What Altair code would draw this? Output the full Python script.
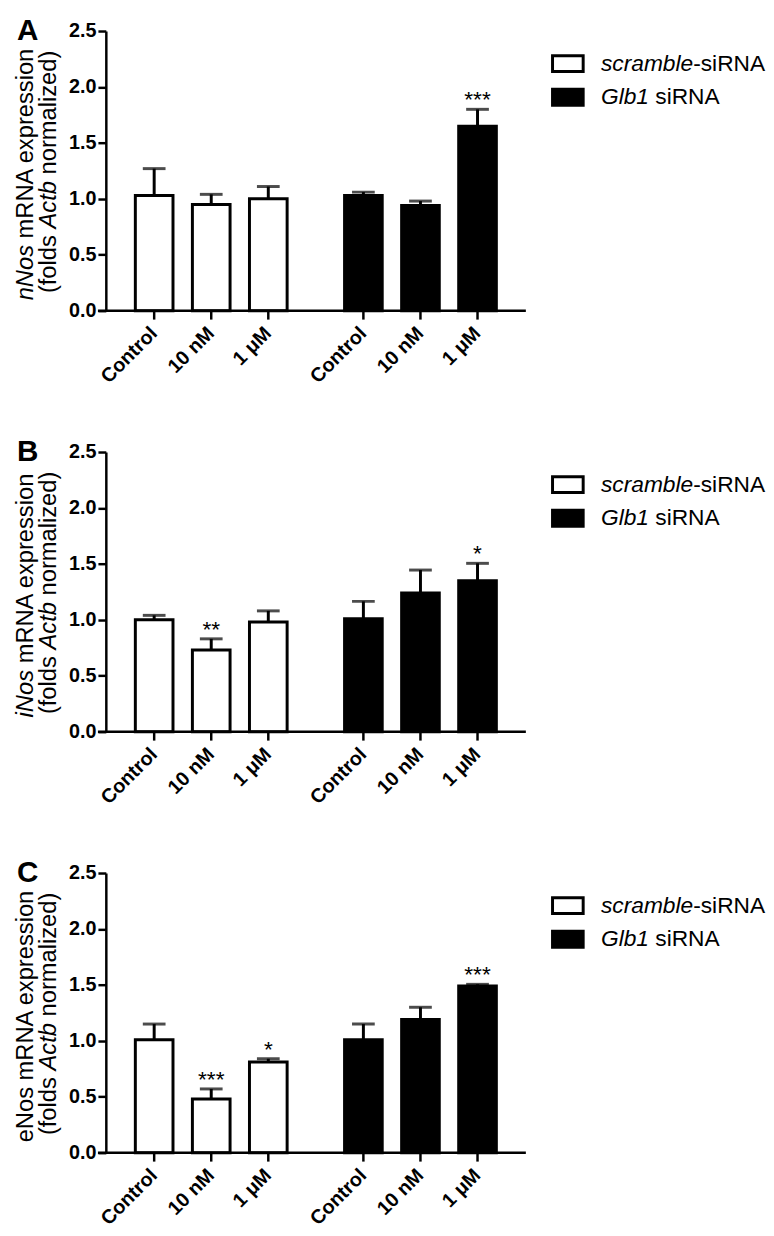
import altair as alt
import pandas as pd

# ---------------- data ----------------
groups = ["scramble-siRNA", "Glb1 siRNA"]
doses = ["Control", "10 nM", "1 μM"]

nnos_mean = [1.03, 0.95, 1.00, 1.03, 0.94, 1.65]
nnos_err = [0.24, 0.09, 0.11, 0.03, 0.04, 0.15]
nnos_sig = ["", "", "", "", "", "***"]

inos_mean = [1.00, 0.73, 0.98, 1.01, 1.24, 1.35]
inos_err = [0.04, 0.10, 0.10, 0.155, 0.205, 0.155]
inos_sig = ["", "**", "", "", "", "*"]

enos_mean = [1.01, 0.48, 0.81, 1.01, 1.19, 1.49]
enos_err = [0.14, 0.09, 0.03, 0.14, 0.11, 0.015]
enos_sig = ["", "***", "*", "", "", "***"]

y_ticks = [0.0, 0.5, 1.0, 1.5, 2.0, 2.5]

# ---------------- styling ----------------
FONT = "Liberation Sans, Arial, Helvetica, sans-serif"
W, H = 425, 283
TITLE_SIZE = 24
LEG_SIZE = 23

REG_W = {' ': 278, '-': 333, '(': 333, ')': 333, 'A': 667, 'G': 778, 'N': 722, 'R': 722,
         '1': 556, 'a': 556, 'b': 556, 'c': 500, 'd': 556, 'e': 556, 'f': 278, 'i': 222,
         'l': 222, 'm': 833, 'n': 556, 'o': 556, 'p': 556, 'r': 333, 's': 500, 't': 278,
         'x': 500, 'z': 500}


def text_width(s, size):
    return sum(REG_W.get(ch, 556) for ch in s) / 1000.0 * size


def frag(text, x, y, size, italic=False, bold=False, angle=0, align="left", baseline="middle"):
    return alt.Chart(pd.DataFrame({"t": [text]})).mark_text(
        font=FONT, fontSize=size, fontStyle="italic" if italic else "normal",
        fontWeight="bold" if bold else "normal", angle=angle, align=align,
        baseline=baseline, color="black"
    ).encode(x=alt.value(x), y=alt.value(y), text="t:N")


def rich_line(parts, size, pos, center, vertical):
    """parts: list of (text, italic). Draws one line of mixed-style text."""
    total = sum(text_width(p, size) for p, _ in parts)
    layers = []
    cum = 0.0
    for p, it in parts:
        lead = text_width(p[: len(p) - len(p.lstrip())], size)
        if vertical:
            y0 = center + total / 2 - cum - lead
            layers.append(frag(p.strip(), pos, y0, size, italic=it, angle=270))
        else:
            x0 = center + cum + lead
            layers.append(frag(p.strip(), x0, pos, size, italic=it))
        cum += text_width(p, size)
    return layers


fill_scale = alt.Scale(domain=groups, range=["white", "black"])


def panel(letter, mean, err, sig, line1):
    df = pd.DataFrame({
        "group": [g for g in groups for _ in doses],
        "dose": doses * 2,
        "mean": mean,
        "err": err,
        "sig": sig,
    })
    x = alt.X("group:N", sort=groups, axis=None,
              scale=alt.Scale(paddingInner=0.2745, paddingOuter=0.141))
    xo = alt.XOffset("dose:N", sort=doses,
                     scale=alt.Scale(paddingInner=0.34, paddingOuter=0))
    yscale = alt.Scale(domain=[0, 2.5], nice=False)
    base = alt.Chart(df).encode(x=x, xOffset=xo).transform_calculate(
        upper="datum.mean + datum.err")

    bars = base.mark_bar(stroke="black", strokeWidth=3, strokeJoin="miter").encode(
        y=alt.Y("mean:Q", scale=yscale,
                axis=alt.Axis(values=y_ticks, format=".1f", title=None, grid=False)),
        fill=alt.Fill("group:N", scale=fill_scale, legend=None),
    )
    err_rule = base.mark_rule(strokeWidth=3, color="black").encode(
        y=alt.Y("mean:Q", scale=yscale), y2="upper:Q")
    cap = base.mark_tick(orient="horizontal", size=23, thickness=3, color="black").encode(
        y=alt.Y("upper:Q", scale=yscale))
    stars = base.mark_text(font=FONT, fontSize=23, baseline="alphabetic", dy=-2,
                           color="black").encode(
        y=alt.Y("upper:Q", scale=yscale), text="sig:N")
    xticks = base.mark_rule(strokeWidth=2.5, color="black").encode(
        y=alt.value(H), y2=alt.value(H + 9))
    xlabels = base.mark_text(font=FONT, fontSize=20, fontWeight="bold", angle=315,
                             align="right", baseline="middle", color="black").encode(
        y=alt.value(H + 20), text="dose:N")
    xaxis_line = alt.Chart(pd.DataFrame({"a": [0]})).mark_rule(
        strokeWidth=2.5, color="black").encode(
        x=alt.value(-8), x2=alt.value(W), y=alt.value(H))

    layers = [bars, err_rule, cap, stars, xticks, xlabels, xaxis_line]

    # y title (two lines, mixed italics)
    line2 = [("(folds ", False), ("Actb", True), (" normalized)", False)]
    layers += rich_line(line1, TITLE_SIZE, -81, H / 2 + 3, True)
    layers += rich_line(line2, TITLE_SIZE, -57, H / 2 + 1, True)

    # panel letter
    layers.append(frag(letter, -90, 9, 30, bold=True, baseline="alphabetic"))

    # legend
    leg_rows = [[("scramble", True), ("-siRNA", False)], [("Glb1", True), (" siRNA", False)]]
    for i, g in enumerate(groups):
        yc = 33 + 34 * i
        sw = alt.Chart(pd.DataFrame({"group": [g]})).mark_rect(
            stroke="black", strokeWidth=3).encode(
            x=alt.value(452), x2=alt.value(483), y=alt.value(yc - 8), y2=alt.value(yc + 8),
            fill=alt.Fill("group:N", scale=fill_scale, legend=None))
        layers.append(sw)
        layers += rich_line(leg_rows[i], LEG_SIZE, yc, 501, False)

    return alt.layer(*layers).properties(width=W, height=H)


pA = panel("A", nnos_mean, nnos_err, nnos_sig, [("nNos", True), (" mRNA expression", False)])
pB = panel("B", inos_mean, inos_err, inos_sig, [("iNos", True), (" mRNA expression", False)])
pC = panel("C", enos_mean, enos_err, enos_sig, [("eNos mRNA expression", False)])

chart = alt.vconcat(pA, pB, pC, spacing=50).properties(
    padding={"left": 5, "top": 1, "right": 0, "bottom": 0}
).configure_view(stroke=None).configure_axis(
    domainColor="black", domainWidth=2.5, tickColor="black", tickWidth=2.5, tickSize=8,
    labelFont=FONT, labelFontSize=20, labelFontWeight="bold", labelColor="black",
    labelPadding=2,
)

chart.save("out.html", embed_options={"renderer": "svg", "actions": False})
